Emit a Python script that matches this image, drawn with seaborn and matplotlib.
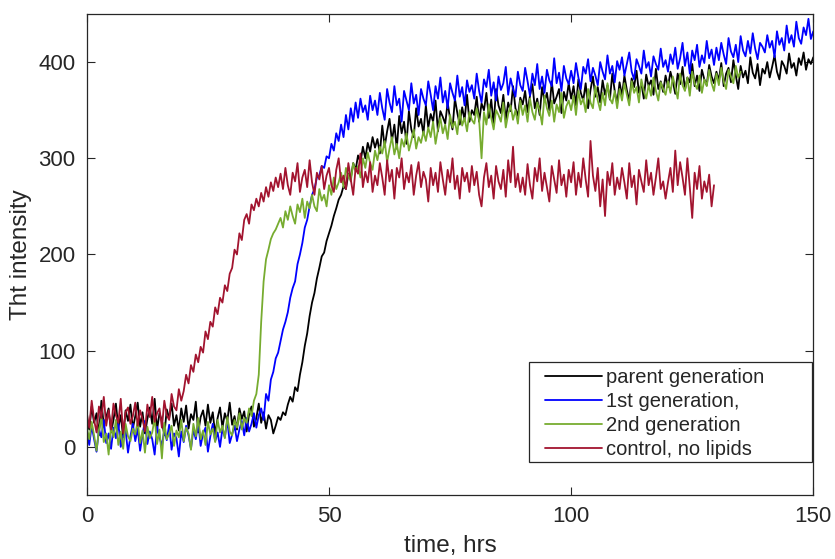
import numpy as np
import pandas as pd
import matplotlib
matplotlib.use("Agg")
import matplotlib.pyplot as plt
from matplotlib.patches import Rectangle
import seaborn as sns

step = 0.5

parent = [
    30, 18, 42, 25, 35, 12, 48, 22, 31, 40, 15, 28, 45, 20, 33, 10, 38, 27, 44, 19,
    32, 46, 21, 36, 14, 29, 41, 24, 50, 18, 35, 27, 12, 39, 30, 45, 22, 33, 17, 40,
    26, 43, 19, 34, 28, 47, 15, 31, 38, 22, 44, 25, 36, 13, 30, 41, 20, 35, 27, 46,
    23, 32, 18, 40, 29, 37, 16, 34, 42, 21, 30, 45, 25, 36, 19, 33, 28, 14, 22, 31,
    28, 36, 33, 44, 52, 47, 62, 58, 75, 88, 105, 118, 136, 150, 160, 175, 186, 198, 202, 214,
    222, 230, 240, 248, 257, 262, 271, 268, 284, 279, 295, 288, 303, 296, 312, 300, 316, 307, 322, 311,
    320, 305, 334, 312, 328, 341, 318, 335, 310, 344, 326, 338, 315, 349, 330, 322, 352, 333, 341, 325,
    355, 332, 346, 338, 360, 328, 349, 343, 336, 358, 341, 330, 362, 347, 335, 353, 340, 366, 338, 350,
    345, 364, 338, 357, 350, 368, 342, 361, 335, 372, 355, 347, 366, 340, 358, 349, 375, 352, 344, 363,
    356, 370, 348, 365, 377, 352, 362, 345, 374, 359, 368, 350, 380, 357, 364, 372, 347, 369, 360, 378,
    362, 375, 355, 382, 368, 360, 378, 352, 371, 385, 364, 374, 358, 381, 366, 376, 361, 388, 370, 357,
    379, 365, 386, 371, 360, 383, 374, 391, 368, 378, 362, 387, 375, 381, 366, 393, 372, 380, 369, 386,
    374, 390, 380, 367, 388, 377, 395, 371, 384, 379, 398, 375, 386, 370, 392, 382, 376, 397, 385, 378,
    390, 381, 399, 375, 388, 394, 379, 402, 386, 372, 396, 384, 391, 378, 405, 389, 383, 398, 376, 393,
    388, 400, 384, 395, 407, 390, 382, 401, 396, 388, 409, 394, 399, 386, 404, 397, 410, 392, 403, 398, 405,
]

gen1 = [
    15, 2, 22, 8, -5, 18, 10, 28, 4, 14, -2, 20, 9, 25, 0, 12, 17, -6, 11, 24,
    6, 19, -4, 13, 27, 3, 16, 8, -8, 21, 10, 1, 18, 7, 23, -3, 14, 9, -10, 16,
    5, 22, 12, -2, 18, 8, 26, 1, 14, 20, -5, 11, 24, 6, 15, 0, 19, 10, 28, 4,
    13, 22, 6, 18, 27, 12, 30, 16, 24, 35, 20, 33, 40, 28, 55, 48, 70, 78, 92, 98,
    110, 122, 130, 140, 155, 165, 172, 190, 200, 212, 228, 236, 250, 262, 268, 280, 282, 292, 290, 302,
    300, 315, 308, 326, 318, 335, 322, 345, 330, 352, 338, 358, 342, 362, 348, 355, 340, 365, 350, 360,
    345, 368, 352, 340, 372, 358, 348, 375, 355, 362, 338, 370, 360, 350, 378, 357, 366, 345, 372, 362,
    355, 380, 366, 350, 375, 362, 384, 358, 370, 352, 378, 368, 360, 386, 364, 374, 355, 381, 369, 376,
    362, 388, 370, 358, 382, 374, 392, 365, 379, 360, 385, 371, 378, 395, 366, 383, 372, 364, 390, 376,
    370, 394, 380, 365, 388, 376, 398, 372, 385, 368, 392, 381, 375, 404, 378, 389, 370, 396, 383, 377,
    391, 378, 399, 384, 372, 395, 388, 403, 380, 394, 386, 376, 400, 390, 382, 407, 388, 396, 379, 401,
    392, 405, 386, 398, 410, 390, 382, 403, 396, 388, 412, 394, 400, 385, 406, 398, 392, 414, 395, 402,
    390, 408, 398, 415, 393, 404, 420, 396, 410, 388, 412, 402, 418, 395, 407, 399, 422, 404, 413, 397,
    415, 402, 420, 408, 398, 425, 411, 405, 418, 400, 427, 412, 406, 422, 409, 430, 414, 403, 420, 416,
    410, 428, 415, 422, 405, 432, 418, 425, 412, 438, 420, 428, 416, 442, 425, 419, 436, 428, 445, 424, 432,
]

gen2 = [
    20, 8, 26, 12, -4, 18, 30, 5, 14, -8, 22, 10, 28, 2, 16, -2, 24, 11, 6, 19,
    13, 27, 4, 17, -6, 21, 9, 15, 30, 3, 18, -12, 25, 8, 14, 22, 1, 17, 10, 28,
    6, 20, 14, -3, 24, 11, 30, 8, 17, 2, 26, 13, 19, 5, 28, 15, 22, 9, 31, 16,
    12, 28, 20, 35, 18, 30, 25, 40, 32, 48, 55, 75, 130, 172, 195, 205, 216, 222, 226, 232,
    238, 228, 245, 236, 250, 240, 232, 252, 244, 258, 238, 255, 248, 262, 250, 245, 268, 256, 262, 250,
    272, 262, 280, 268, 275, 285, 270, 290, 282, 276, 295, 286, 292, 280, 300, 290, 306, 295, 288, 308,
    298, 312, 305, 318, 296, 310, 322, 304, 315, 300, 320, 312, 326, 308, 318, 330, 310, 322, 316, 328,
    318, 332, 322, 338, 315, 330, 342, 326, 335, 320, 345, 332, 338, 325, 350, 334, 342, 328, 348, 340,
    336, 352, 340, 300, 348, 335, 356, 342, 330, 350, 345, 338, 358, 332, 346, 355, 340, 350, 336, 360,
    345, 355, 338, 362, 348, 340, 358, 350, 335, 365, 352, 344, 360, 338, 356, 348, 368, 342, 354, 360,
    350, 365, 345, 370, 356, 362, 348, 372, 358, 352, 375, 360, 350, 368, 355, 378, 362, 357, 370, 352,
    372, 360, 378, 366, 355, 380, 368, 374, 358, 382, 370, 362, 376, 365, 384, 370, 360, 379, 372, 366,
    380, 368, 385, 374, 362, 388, 376, 370, 384, 365, 390, 378, 372, 386, 368, 382, 375, 392, 378, 370,
    388, 376, 394, 380, 372, 392, 385, 378, 396, 384, 390,
]

control = [
    35, 20, 48, 28, 15, 42, 30, 52, 22, 38, 18, 45, 33, 25, 50, 14, 36, 41, 24, 32,
    46, 22, 38, 29, 16, 44, 31, 52, 26, 35, 40, 20, 48, 33, 28, 55, 42, 38, 60, 48,
    58, 75, 66, 85, 78, 96, 88, 104, 98, 120, 112, 130, 125, 145, 138, 155, 150, 168, 162, 180,
    186, 205, 200, 222, 215, 236, 242, 232, 252, 246, 258, 250, 264, 255, 270, 260, 275, 266, 280, 270,
    284, 268, 290, 272, 262, 285, 276, 295, 265, 280, 288, 270, 298, 275, 262, 285, 278, 292, 268, 282,
    290, 272, 265, 288, 300, 275, 282, 268, 295, 278, 262, 290, 284, 305, 270, 286, 275, 296, 265, 282,
    272, 295, 280, 262, 298, 276, 288, 258, 290, 280, 300, 268, 285, 275, 293, 262, 282, 296, 270, 286,
    278, 255, 290, 272, 285, 265, 296, 278, 262, 288, 275, 300, 268, 282, 258, 290, 276, 285, 265, 292,
    272, 286, 262, 250, 280, 295, 270, 282, 258, 292, 276, 268, 288, 260, 298, 275, 312, 270, 284, 265,
    280, 262, 294, 272, 258, 290, 276, 300, 266, 285, 270, 255, 292, 278, 264, 298, 272, 283, 260, 288,
    275, 296, 262, 285, 270, 300, 278, 260, 318, 282, 266, 290, 250, 278, 240, 286, 272, 295, 262, 280,
    268, 290, 275, 258, 295, 270, 282, 252, 288, 276, 265, 298, 272, 285, 262, 280, 300, 268, 276, 258,
    275, 290, 265, 308, 272, 296, 280, 262, 300, 270, 238, 285, 268, 292, 258, 276, 265, 283, 250, 272,
]

labels = ["parent generation", "1st generation,", "2nd generation", "control, no lipids"]
colors = ["#000000", "#0000FF", "#77AC30", "#A2142F"]


def make_frame(values, name):
    t = np.arange(len(values)) * step
    return pd.DataFrame({"time": t, "intensity": values, "series": name})


df = pd.concat([make_frame(v, n) for v, n in zip([parent, gen1, gen2, control], labels)])

sns.set_style("ticks")
plt.rcParams["font.family"] = ["Liberation Sans", "DejaVu Sans"]

fig = plt.figure(figsize=(8.35, 5.59), dpi=100)
ax = fig.add_axes([0.104, 0.1145, 0.870, 0.8605])

sns.lineplot(data=df, x="time", y="intensity", hue="series", hue_order=labels,
             palette=colors, linewidth=1.3, ax=ax, estimator=None, sort=False)

ax.set_xlim(0, 150)
ax.set_ylim(-50, 450)
ax.set_xticks([0, 50, 100, 150])
ax.set_yticks([0, 100, 200, 300, 400])
ax.set_xlabel("time, hrs", fontsize=17.5, color="#262626", labelpad=6)
ax.set_ylabel("Tht intensity", fontsize=17.5, color="#262626", labelpad=5)
ax.tick_params(direction="in", length=6, width=0.8, labelsize=16, colors="#262626",
               top=True, right=True, pad=8)
for s in ax.spines.values():
    s.set_visible(True)
    s.set_color("#262626")
    s.set_linewidth(0.9)

# MATLAB-style legend box (wider than the entries, extra room on the right)
box = Rectangle((0.6088, 0.0686), 0.3898, 0.2079, transform=ax.transAxes,
                facecolor="white", edgecolor="#262626", linewidth=0.9, zorder=4.5)
ax.add_patch(box)

leg = ax.legend(loc="lower left", fontsize=14.5, frameon=False,
                handlelength=2.8, borderpad=0.3, labelspacing=0.24,
                handletextpad=0.2, borderaxespad=0,
                bbox_to_anchor=(0.6226, 0.0624))
leg.set_zorder(5)
for line in leg.get_lines():
    line.set_linewidth(1.3)

fig.savefig("out.png", dpi=100)
